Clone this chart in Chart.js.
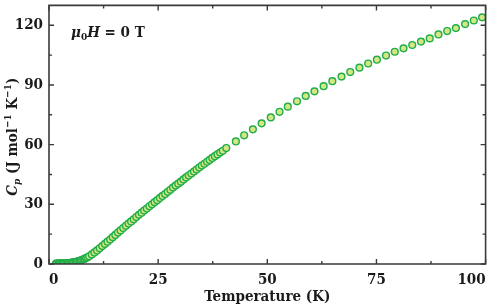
<!DOCTYPE html>
<html>
<head>
<meta charset="utf-8">
<script src="https://cdn.jsdelivr.net/npm/chart.js@4.4.1/dist/chart.umd.min.js"></script>
<style>
  html, body { margin: 0; padding: 0; background: #ffffff; }
  #wrap { width: 491px; height: 306px; position: relative; }
</style>
</head>
<body>
<div id="wrap"><canvas id="c" width="491" height="306"></canvas></div>
<script>
// ---- data ----
const tempDense = [1.6, 1.9, 2.2, 2.5, 2.8, 3.1, 3.4, 3.7, 4.0, 4.3, 4.6, 4.9, 5.2, 5.5, 5.8, 6.1, 6.4, 6.7, 7.0, 7.3, 7.6, 7.9, 8.2, 8.5, 8.8, 9.2, 9.8, 10.4, 11.0, 11.6, 12.2, 12.8, 13.4, 14.0, 14.6, 15.2, 15.8, 16.4, 17.0, 17.6, 18.2, 18.8, 19.4, 20.0, 20.6, 21.2, 21.8, 22.4, 23.0, 23.6, 24.2, 24.8, 25.4, 26.0, 26.6, 27.2, 27.8, 28.4, 29.0, 29.6, 30.2, 30.8, 31.4, 32.0, 32.6, 33.2, 33.8, 34.4, 35.0, 35.6, 36.2, 36.8, 37.4, 38.0, 38.6, 39.2, 39.8];
const cpDense = [0.2, 0.3, 0.3, 0.3, 0.3, 0.4, 0.4, 0.4, 0.4, 0.5, 0.5, 0.6, 0.7, 0.8, 0.9, 1.0, 1.2, 1.4, 1.6, 1.8, 2.1, 2.4, 2.7, 3.0, 3.4, 3.9, 4.8, 5.8, 6.8, 7.9, 9.0, 10.1, 11.2, 12.3, 13.5, 14.6, 15.8, 16.9, 18.1, 19.2, 20.3, 21.4, 22.5, 23.6, 24.7, 25.8, 26.9, 27.9, 29.0, 30.0, 31.1, 32.1, 33.2, 34.2, 35.2, 36.3, 37.3, 38.4, 39.4, 40.4, 41.4, 42.5, 43.5, 44.5, 45.5, 46.5, 47.5, 48.5, 49.5, 50.4, 51.4, 52.3, 53.3, 54.2, 55.1, 56.0, 56.9];
const tempSparse = [40.6, 42.8, 44.7, 46.7, 48.7, 50.8, 52.8, 54.7, 56.8, 58.8, 60.8, 62.9, 64.9, 67.0, 69.0, 71.1, 73.1, 75.1, 77.2, 79.2, 81.2, 83.2, 85.2, 87.2, 89.2, 91.2, 93.2, 95.3, 97.3, 99.2];
const cpSparse = [58.3, 61.6, 64.7, 67.7, 70.7, 73.7, 76.5, 79.1, 81.8, 84.5, 86.8, 89.4, 91.9, 94.2, 96.5, 98.7, 100.8, 102.7, 104.8, 106.7, 108.4, 110.1, 111.8, 113.4, 115.4, 117.1, 118.6, 120.6, 122.4, 124.0];
const xTickValues = [0, 25, 50, 75, 100];
const yTickValues = [0, 30, 60, 90, 120];
const xMinorValues = [12.5, 37.5, 62.5, 87.5];
const yMinorValues = [15, 45, 75, 105];
const xTitle = 'Temperature (K)';

const points = tempDense.map((t, i) => ({x: t, y: cpDense[i]}))
  .concat(tempSparse.map((t, i) => ({x: t, y: cpSparse[i]})));

const FONT = '"DejaVu Serif Condensed", "DejaVu Serif", serif';
const AXIS = '#3a3a3a';

const framePlugin = {
  id: 'frame',
  afterDatasetsDraw(chart) {
    const {ctx, chartArea: a, scales: {x, y}} = chart;
    ctx.save();
    ctx.strokeStyle = AXIS;
    ctx.lineWidth = 1.6;
    ctx.beginPath();
    ctx.rect(a.left, a.top, a.right - a.left, a.bottom - a.top);
    ctx.stroke();
    ctx.lineWidth = 1.4;
    const tick = (vals, len) => {
      vals.forEach(v => {
        const px = x.getPixelForValue(v);
        ctx.beginPath();
        ctx.moveTo(px, a.bottom); ctx.lineTo(px, a.bottom - len);
        ctx.moveTo(px, a.top); ctx.lineTo(px, a.top + len);
        ctx.stroke();
      });
    };
    const tickY = (vals, len) => {
      vals.forEach(v => {
        const py = y.getPixelForValue(v);
        ctx.beginPath();
        ctx.moveTo(a.left, py); ctx.lineTo(a.left + len, py);
        ctx.moveTo(a.right, py); ctx.lineTo(a.right - len, py);
        ctx.stroke();
      });
    };
    tick(xTickValues, 5); tick(xMinorValues, 3);
    tickY(yTickValues, 5); tickY(yMinorValues, 3);
    ctx.restore();
  },
  afterDraw(chart) {
    const {ctx, chartArea: a} = chart;
    ctx.save();
    ctx.fillStyle = '#1a1a1a';
    ctx.textBaseline = 'alphabetic';
    // y axis title (rotated)
    const big = 15, small = 10;
    const parts = [
      {t: 'C', f: `italic bold ${big}px ${FONT}`, dy: 0},
      {t: 'p', f: `italic bold ${small}px ${FONT}`, dy: 3},
      {t: ' (J mol', f: `bold ${big}px ${FONT}`, dy: 0},
      {t: '\u22121', f: `bold ${small}px ${FONT}`, dy: -6},
      {t: ' K', f: `bold ${big}px ${FONT}`, dy: 0},
      {t: '\u22121', f: `bold ${small}px ${FONT}`, dy: -6},
      {t: ')', f: `bold ${big}px ${FONT}`, dy: 0}
    ];
    let total = 0;
    parts.forEach(p => { ctx.font = p.f; p.w = ctx.measureText(p.t).width; total += p.w; });
    ctx.translate(17, (a.top + a.bottom) / 2 + 2);
    ctx.rotate(-Math.PI / 2);
    let cx = -total / 2;
    parts.forEach(p => { ctx.font = p.f; ctx.fillText(p.t, cx, p.dy); cx += p.w; });
    ctx.restore();

    // annotation
    ctx.save();
    ctx.fillStyle = '#1a1a1a';
    const ann = [
      {t: '\u03BC', f: `italic bold ${big}px ${FONT}`, dy: 0},
      {t: '0', f: `bold ${small}px ${FONT}`, dy: 3},
      {t: 'H', f: `italic bold ${big}px ${FONT}`, dy: 0},
      {t: ' = 0 T', f: `bold ${big}px ${FONT}`, dy: 0}
    ];
    let ax = a.left + 22;
    const ay = a.top + 32;
    ann.forEach(p => { ctx.font = p.f; ctx.fillText(p.t, ax, ay + p.dy); ax += ctx.measureText(p.t).width; });
    ctx.restore();
  }
};

const noPad = s => { s.paddingLeft = 0; s.paddingRight = 0; s.paddingTop = 0; s.paddingBottom = 0; };

new Chart(document.getElementById('c'), {
  type: 'scatter',
  data: {
    datasets: [{
      data: points,
      pointRadius: 3.4,
      pointBorderWidth: 1.4,
      pointBackgroundColor: '#d5e684',
      pointBorderColor: '#1fae48',
      showLine: false
    }]
  },
  options: {
    responsive: false,
    animation: false,
    layout: {padding: {top: 2, right: 3, left: 0, bottom: 0}},
    plugins: {legend: {display: false}, tooltip: {enabled: false}},
    scales: {
      x: {
        type: 'linear', min: 0, max: 100,
        grid: {display: false, drawTicks: false},
        border: {display: false},
        afterBuildTicks: s => { s.ticks = xTickValues.map(v => ({value: v})); },
        afterFit: s => { s.height = 42; noPad(s); },
        ticks: {padding: 7, align: 'inner', color: '#1a1a1a', font: {family: FONT, size: 15, weight: 'bold'}, maxRotation: 0},
        title: {display: true, text: xTitle, color: '#1a1a1a', padding: {top: 0, bottom: 0},
                font: {family: FONT, size: 15, weight: 'bold'}}
      },
      y: {
        type: 'linear', min: 0, max: 130,
        grid: {display: false, drawTicks: false},
        border: {display: false},
        afterBuildTicks: s => { s.ticks = yTickValues.map(v => ({value: v})); },
        afterFit: s => { s.width = 49; noPad(s); },
        ticks: {padding: 6, color: '#1a1a1a', font: {family: FONT, size: 15, weight: 'bold'}}
      }
    }
  },
  plugins: [framePlugin]
});
</script>
</body>
</html>
